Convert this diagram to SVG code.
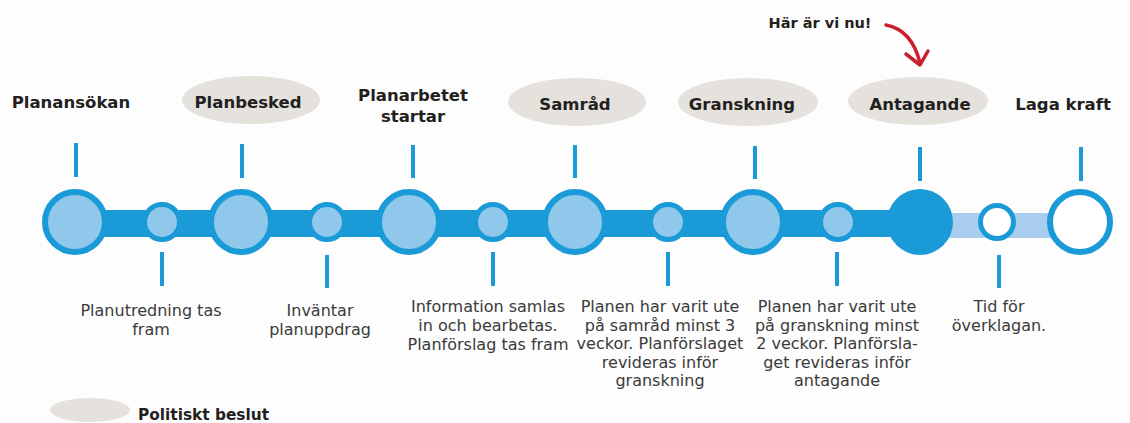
<svg xmlns="http://www.w3.org/2000/svg" width="1130" height="423" viewBox="0 0 1130 423">
<style>
.bg{fill:#fdfdfd}
.pol{fill:#e5e2dd}
.lbl{font-family:"DejaVu Sans",sans-serif;font-weight:bold;font-size:16.5px;fill:#231f20;text-anchor:middle}
.desc{font-family:"DejaVu Sans",sans-serif;font-size:16px;fill:#3a3a3a;text-anchor:middle}
.tick{stroke:#1a9bd7;stroke-width:4;fill:none}
.big{fill:#8fc8ea;stroke:#1a9bd7;stroke-width:6}
.small{fill:#8fc8ea;stroke:#1a9bd7;stroke-width:5}
.bar{fill:#1a9bd7}
.lbar{fill:#a9cdee}
</style>
<rect class="bg" x="0" y="0" width="1130" height="423"/>
<g id="connectors">
  <rect class="lbar" x="920" y="213" width="160" height="25"/>
  <rect class="bar" x="75" y="210" width="845" height="27"/>
  <line class="tick" x1="76" y1="143" x2="76" y2="177"/>
  <line class="tick" x1="242" y1="144" x2="242" y2="178"/>
  <line class="tick" x1="413" y1="145" x2="413" y2="178"/>
  <line class="tick" x1="575" y1="145" x2="575" y2="178"/>
  <line class="tick" x1="755" y1="146" x2="755" y2="179"/>
  <line class="tick" x1="920" y1="147" x2="920" y2="181"/>
  <line class="tick" x1="1081" y1="147" x2="1081" y2="181"/>
  <line class="tick" x1="162" y1="252" x2="162" y2="286"/>
  <line class="tick" x1="327" y1="255" x2="327" y2="288"/>
  <line class="tick" x1="493" y1="252" x2="493" y2="286"/>
  <line class="tick" x1="668" y1="252" x2="668" y2="286"/>
  <line class="tick" x1="837" y1="252" x2="837" y2="286"/>
  <line class="tick" x1="999" y1="255" x2="999" y2="288"/>
</g>
<g id="n-planansokan">
  <circle class="big" cx="75" cy="222" r="30"/>
  <text class="lbl" x="71" y="108">Planansökan</text>
</g>
<g id="n-planutredning">
  <circle class="small" cx="162" cy="222" r="17.5"/>
  <text class="desc" x="151" y="316">Planutredning tas</text>
  <text class="desc" x="151" y="335">fram</text>
</g>
<g id="n-planbesked">
  <circle class="big" cx="241" cy="222" r="30"/>
  <ellipse class="pol" cx="251" cy="100" rx="69" ry="24"/>
  <text class="lbl" x="248" y="108">Planbesked</text>
</g>
<g id="n-invantar">
  <circle class="small" cx="327" cy="222" r="17.5"/>
  <text class="desc" x="320" y="316">Inväntar</text>
  <text class="desc" x="320" y="335">planuppdrag</text>
</g>
<g id="n-planarbetet">
  <circle class="big" cx="409" cy="222" r="30"/>
  <text class="lbl" x="413" y="101">Planarbetet</text>
  <text class="lbl" x="413" y="122">startar</text>
</g>
<g id="n-information">
  <circle class="small" cx="493" cy="222" r="17.5"/>
  <text class="desc" x="488" y="312">Information samlas</text>
  <text class="desc" x="488" y="331">in och bearbetas.</text>
  <text class="desc" x="488" y="350">Planförslag tas fram</text>
</g>
<g id="n-samrad">
  <circle class="big" cx="575" cy="222" r="30"/>
  <ellipse class="pol" cx="577" cy="102" rx="69" ry="24"/>
  <text class="lbl" x="575" y="110">Samråd</text>
</g>
<g id="n-samrad-desc">
  <circle class="small" cx="668" cy="222" r="17.5"/>
  <text class="desc" x="660" y="312">Planen har varit ute</text>
  <text class="desc" x="660" y="330.5">på samråd minst 3</text>
  <text class="desc" x="660" y="349">veckor. Planförslaget</text>
  <text class="desc" x="660" y="367.5">revideras inför</text>
  <text class="desc" x="660" y="386">granskning</text>
</g>
<g id="n-granskning">
  <circle class="big" cx="753" cy="222" r="30"/>
  <ellipse class="pol" cx="748" cy="102" rx="70" ry="24"/>
  <text class="lbl" x="742" y="110">Granskning</text>
</g>
<g id="n-granskning-desc">
  <circle class="small" cx="838" cy="222" r="17.5"/>
  <text class="desc" x="837" y="312">Planen har varit ute</text>
  <text class="desc" x="837" y="330.5">på granskning minst</text>
  <text class="desc" x="837" y="349">2 veckor. Planförsla-</text>
  <text class="desc" x="837" y="367.5">get revideras inför</text>
  <text class="desc" x="837" y="386">antagande</text>
</g>
<g id="n-antagande">
  <circle cx="920" cy="222" r="33" fill="#1a9bd7"/>
  <ellipse class="pol" cx="918" cy="101" rx="70" ry="24"/>
  <text class="lbl" x="920" y="110">Antagande</text>
</g>
<g id="n-overklagan">
  <circle cx="997" cy="222" r="16.5" fill="#ffffff" stroke="#1a9bd7" stroke-width="5"/>
  <text class="desc" x="999" y="312">Tid för</text>
  <text class="desc" x="999" y="331">överklagan.</text>
</g>
<g id="n-laga-kraft">
  <circle cx="1080" cy="222" r="30" fill="#ffffff" stroke="#1a9bd7" stroke-width="6"/>
  <text class="lbl" x="1063" y="110">Laga kraft</text>
</g>
<g id="n-har-ar-vi-nu">
  <text x="820" y="28" font-family="DejaVu Sans, sans-serif" font-weight="bold" font-size="14.5" fill="#231f20" text-anchor="middle">Här är vi nu!</text>
  <path d="M 886 25 Q 912 30 920 63" fill="none" stroke="#c8202f" stroke-width="3.5" stroke-linecap="round"/>
  <path d="M 906 54 L 920 65 L 928 51" fill="none" stroke="#c8202f" stroke-width="3.5" stroke-linecap="round" stroke-linejoin="round"/>
</g>
<g id="legend">
  <ellipse class="pol" cx="90" cy="410" rx="40" ry="12"/>
  <text x="138" y="420" font-family="DejaVu Sans, sans-serif" font-weight="bold" font-size="15" fill="#231f20" textLength="131" lengthAdjust="spacingAndGlyphs">Politiskt beslut</text>
</g>
</svg>
